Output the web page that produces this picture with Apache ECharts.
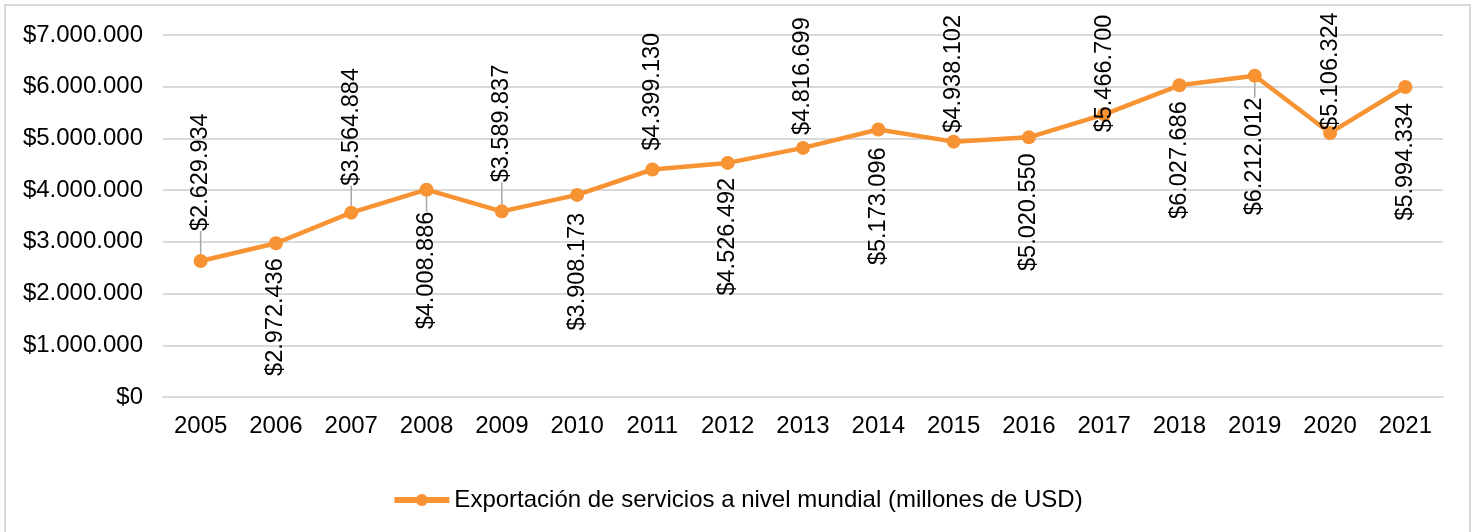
<!DOCTYPE html>
<html style="height: 100%">
<head>
    <meta charset="utf-8">
    <script src="https://cdn.jsdelivr.net/npm/echarts@6/dist/echarts.min.js"></script>
    <title>Exportación de servicios</title>
</head>
<body style="height: 100%; margin: 0; background: #fff">
<div id="container" style="width: 1474px; height: 532px"></div>
<script type="text/javascript">

    let years = ['2005', '2006', '2007', '2008', '2009', '2010', '2011', '2012', '2013',
        '2014', '2015', '2016', '2017', '2018', '2019', '2020', '2021']
    let exports = [2629934, 2972436, 3564884, 4008886, 3589837, 3908173, 4399130, 4526492, 4816699,
        5173096, 4938102, 5020550, 5466700, 6027686, 6212012, 5106324, 5994334]
    // where each label sits: above or below its point, and how far
    let labelSide = ['top', 'bottom', 'top', 'bottom', 'top', 'bottom', 'top', 'bottom', 'top',
        'bottom', 'top', 'bottom', 'top', 'bottom', 'bottom', 'top', 'bottom']
    let labelGap = [23, 8, 20, 15, 22, 11, 12, 8, 6, 11, 2, 9, -25, 9, 15, -4, 9]
    // labels that get a grey leader line
    let withLeader = ['2005', '2007', '2008', '2009', '2019']

    function money(v) {
        return '$' + String(Math.round(v)).replace(/\B(?=(\d{3})+(?!\d))/g, '.')
    }

    let seriesData = exports.map(function (v, i) {
        let up = labelSide[i] === 'top'
        return {
            value: v,
            label: {
                position: labelSide[i],
                distance: labelGap[i],
                align: up ? 'left' : 'right'
            },
            labelLine: {show: withLeader.indexOf(years[i]) >= 0}
        }
    })

    let font = 'Liberation Sans, Arial, sans-serif'
    let dom = document.getElementById('container')
    let chart = echarts.init(dom)
    chart.setOption({
        animation: false,
        textStyle: {fontFamily: font},
        graphic: [{
            type: 'rect',
            shape: {x: 5, y: 5, width: 1465, height: 535},
            style: {fill: 'none', stroke: '#d9d9d9', lineWidth: 2},
            silent: true
        }],
        grid: {left: 163, right: 31, top: 35, bottom: 135},
        legend: {
            bottom: 15,
            left: 'center',
            itemWidth: 55,
            itemHeight: 15,
            lineStyle: {width: 6},
            textStyle: {fontSize: 24, color: '#000', fontFamily: font}
        },
        xAxis: {
            type: 'category',
            data: years,
            axisLine: {lineStyle: {color: '#d9d9d9', width: 2}},
            axisTick: {show: false},
            axisLabel: {fontSize: 24, color: '#000', margin: 17}
        },
        yAxis: {
            type: 'value',
            min: 0,
            max: 7000000,
            interval: 1000000,
            axisLine: {show: false},
            axisTick: {show: false},
            splitLine: {lineStyle: {color: '#d9d9d9', width: 2}},
            axisLabel: {fontSize: 24, color: '#000', margin: 20, formatter: money}
        },
        series: [{
            name: 'Exportación de servicios a nivel mundial (millones de USD)',
            type: 'line',
            data: seriesData,
            color: '#f79333',
            symbol: 'circle',
            symbolSize: 14,
            lineStyle: {width: 4.5, color: '#f79333'},
            labelLine: {lineStyle: {color: '#a6a6a6', width: 1.5}},
            label: {
                show: true,
                rotate: 90,
                verticalAlign: 'middle',
                fontSize: 23.5,
                color: '#000',
                formatter: function (p) { return money(p.value) }
            }
        }]
    })

</script>
</body>
</html>
